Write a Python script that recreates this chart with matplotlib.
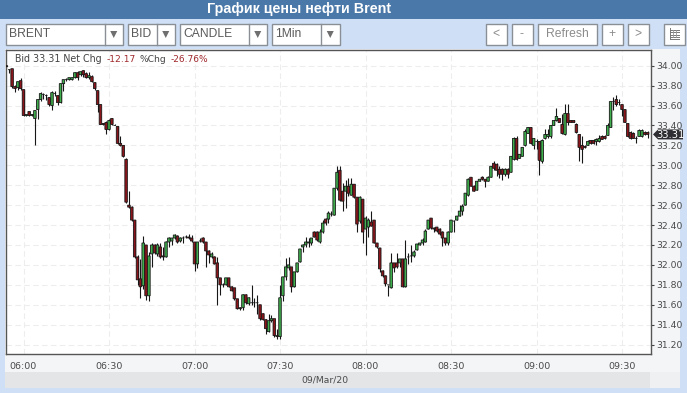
import numpy as np
import matplotlib
matplotlib.use("Agg")
import matplotlib.pyplot as plt
from matplotlib.patches import Rectangle, Polygon

# ---------- data ----------
title = "График цены нефти Brent"
date_label = "09/Mar/20"
time_ticks = [0, 30, 60, 90, 120, 150, 180, 210]
time_labels = ["06:00", "06:30", "07:00", "07:30", "08:00", "08:30", "09:00", "09:30"]
price_ticks = [31.2, 31.4, 31.6, 31.8, 32.0, 32.2, 32.4, 32.6, 32.8, 33.0, 33.2, 33.4, 33.6, 33.8, 34.0]
last_price = 33.31
first_minute = -6  # candles are one minute apart, minutes counted from 06:00

opens = [34.00,33.96,33.97,33.79,33.78,33.85,
33.76,33.50,33.54,33.50,33.47,33.56,33.66,33.71,33.70,33.68,
33.60,33.72,33.70,33.63,33.82,33.86,33.86,33.86,33.88,33.93,
33.91,33.95,33.92,33.88,33.89,33.83,33.75,33.61,33.42,33.43,
33.36,33.47,33.40,33.39,33.22,33.20,33.06,32.60,32.58,32.45,
32.08,31.86,31.79,32.20,31.69,32.11,32.20,32.11,32.18,32.09,
32.08,32.23,32.24,32.27,32.29,32.24,32.27,32.28,32.28,32.27,
32.23,32.01,32.24,32.27,32.23,32.14,32.08,32.08,32.02,31.87,
31.80,31.80,31.87,31.78,31.77,31.66,31.57,31.57,31.70,31.61,
31.62,31.62,31.62,31.60,31.51,31.45,31.33,31.44,31.46,31.29,
31.28,31.69,31.88,31.97,31.98,31.78,31.93,32.03,32.18,32.20,
32.22,32.22,32.33,32.33,32.23,32.33,32.46,32.46,32.51,32.50,
32.77,32.95,32.74,32.74,32.79,32.70,32.81,32.68,32.44,32.66,
32.36,32.38,32.43,32.45,32.22,32.17,31.94,31.89,31.80,31.77,
32.02,32.02,32.02,32.06,31.78,32.08,32.09,32.09,32.15,32.20,
32.22,32.23,32.36,32.47,32.37,32.38,32.36,32.33,32.27,32.22,
32.33,32.44,32.45,32.49,32.54,32.60,32.70,32.88,32.79,32.75,
32.84,32.88,32.86,32.84,32.88,33.02,33.01,32.96,32.96,32.91,
32.96,32.93,33.06,33.27,33.07,33.09,33.20,33.32,33.38,33.20,
33.24,33.24,33.04,33.27,33.29,33.29,33.40,33.45,33.47,33.41,
33.31,33.52,33.45,33.45,33.41,33.31,33.20,33.19,33.20,33.25,
33.25,33.24,33.24,33.29,33.29,33.30,33.38,33.64,33.66,33.63,
33.61,33.56,33.42,33.33,33.32,33.27,33.29,33.29,33.33,33.33]

closes = [33.99,33.96,33.79,33.77,33.84,33.77,
33.50,33.51,33.50,33.51,33.55,33.66,33.72,33.71,33.70,33.61,
33.73,33.72,33.63,33.82,33.86,33.86,33.88,33.88,33.93,33.88,
33.94,33.91,33.88,33.90,33.84,33.77,33.61,33.41,33.41,33.36,
33.45,33.41,33.40,33.22,33.20,33.09,32.63,32.58,32.45,32.08,
31.85,31.78,32.22,31.69,32.09,32.20,32.12,32.20,32.08,32.08,
32.23,32.27,32.27,32.30,32.23,32.27,32.27,32.28,32.27,32.24,
32.01,32.23,32.24,32.23,32.14,32.10,32.11,32.01,31.87,31.80,
31.80,31.87,31.78,31.74,31.66,31.56,31.56,31.70,31.62,31.67,
31.62,31.62,31.62,31.46,31.45,31.36,31.44,31.46,31.29,31.28,
31.67,31.88,31.98,32.00,31.78,31.93,32.02,32.16,32.20,32.23,
32.23,32.27,32.28,32.25,32.33,32.42,32.42,32.52,32.51,32.77,
32.93,32.65,32.64,32.79,32.72,32.81,32.68,32.41,32.68,32.33,
32.47,32.45,32.39,32.22,32.18,31.96,31.89,31.81,31.80,32.02,
31.97,31.98,32.06,31.78,32.06,32.08,32.09,32.13,32.21,32.22,
32.25,32.34,32.45,32.37,32.36,32.34,32.31,32.27,32.22,32.33,
32.45,32.44,32.49,32.54,32.59,32.72,32.86,32.79,32.74,32.84,
32.86,32.86,32.84,32.88,32.99,32.97,32.95,32.91,32.91,32.96,
32.91,33.09,33.27,33.06,33.11,33.18,33.34,33.38,33.22,33.27,
33.24,33.05,33.25,33.31,33.31,33.40,33.45,33.49,33.43,33.32,
33.52,33.43,33.43,33.43,33.33,33.18,33.16,33.18,33.24,33.22,
33.22,33.26,33.27,33.26,33.27,33.40,33.64,33.64,33.61,33.63,
33.56,33.43,33.29,33.27,33.27,33.27,33.35,33.35,33.31,33.31]

highs = [34.01,33.97,33.97,33.81,33.84,33.88,
33.76,33.51,33.54,33.52,33.55,33.66,33.74,33.73,33.72,33.69,
33.75,33.75,33.71,33.82,33.86,33.88,33.88,33.89,33.94,33.95,
33.95,33.96,33.94,33.94,33.91,33.84,33.75,33.61,33.42,33.44,
33.46,33.47,33.41,33.39,33.29,33.20,33.07,32.74,32.59,32.45,
32.10,32.06,32.29,32.20,32.13,32.22,32.21,32.22,32.22,32.18,
32.24,32.28,32.27,32.31,32.30,32.28,32.29,32.30,32.31,32.30,
32.23,32.23,32.27,32.28,32.23,32.15,32.13,32.09,32.08,31.87,
31.82,31.87,31.87,31.79,31.77,31.66,31.58,31.71,31.71,31.68,
31.80,31.67,31.70,31.60,31.52,31.46,31.51,31.50,31.46,31.36,
31.80,31.88,32.07,32.08,31.98,31.93,32.02,32.16,32.21,32.28,
32.27,32.27,32.34,32.34,32.36,32.45,32.47,32.54,32.54,32.77,
32.99,32.99,32.82,32.85,32.87,32.87,32.81,32.68,32.69,32.66,
32.49,32.47,32.54,32.45,32.22,32.17,31.95,31.90,31.80,32.12,
32.02,32.12,32.06,32.06,32.25,32.12,32.20,32.15,32.21,32.22,
32.27,32.36,32.45,32.47,32.38,32.38,32.37,32.34,32.27,32.34,
32.45,32.45,32.49,32.60,32.61,32.72,32.87,32.88,32.80,32.84,
32.86,32.89,32.86,32.89,32.99,33.04,33.02,32.99,32.97,32.97,
32.97,33.09,33.28,33.29,33.11,33.18,33.36,33.38,33.38,33.27,
33.26,33.24,33.26,33.36,33.36,33.40,33.45,33.58,33.47,33.52,
33.62,33.62,33.45,33.45,33.42,33.31,33.29,33.20,33.25,33.25,
33.26,33.27,33.30,33.30,33.30,33.42,33.64,33.69,33.71,33.67,
33.61,33.56,33.42,33.34,33.33,33.29,33.36,33.36,33.34,33.34]

lows = [33.97,33.93,33.78,33.74,33.76,33.76,
33.49,33.49,33.49,33.49,33.20,33.46,33.65,33.67,33.66,33.60,
33.56,33.70,33.61,33.63,33.75,33.85,33.86,33.86,33.88,33.86,
33.90,33.89,33.88,33.87,33.84,33.76,33.54,33.41,33.40,33.31,
33.35,33.40,33.40,33.21,33.19,33.08,32.62,32.57,32.44,32.07,
31.80,31.67,31.76,31.65,31.64,31.98,32.11,32.09,32.07,32.05,
32.08,32.18,32.20,32.26,32.22,32.23,32.22,32.27,32.26,32.23,
31.94,31.97,32.23,32.22,31.98,32.02,32.07,32.01,31.60,31.70,
31.78,31.80,31.78,31.74,31.65,31.56,31.55,31.55,31.61,31.60,
31.60,31.58,31.51,31.45,31.45,31.31,31.33,31.43,31.28,31.26,
31.26,31.64,31.85,31.95,31.73,31.78,31.93,32.03,32.13,32.18,
32.18,32.20,32.28,32.24,32.22,32.32,32.40,32.42,32.49,32.50,
32.75,32.64,32.54,32.57,32.69,32.70,32.67,32.33,32.42,32.22,
32.10,32.28,32.39,32.22,32.17,31.93,31.88,31.79,31.69,31.77,
31.93,31.97,31.98,31.78,31.78,32.01,32.03,32.08,32.15,32.20,
32.20,32.23,32.36,32.36,32.33,32.33,32.30,32.19,32.20,32.20,
32.33,32.33,32.45,32.49,32.50,32.60,32.69,32.79,32.74,32.75,
32.84,32.85,32.78,32.84,32.88,32.95,32.89,32.87,32.85,32.89,
32.87,32.93,33.05,33.05,33.07,33.09,33.19,33.32,33.21,33.16,
33.16,32.90,33.02,33.26,33.27,33.27,33.40,33.44,33.43,33.31,
33.30,33.40,33.43,33.43,33.32,33.04,33.02,33.17,33.20,33.21,
33.21,33.20,33.23,33.26,33.26,33.30,33.38,33.56,33.60,33.61,
33.49,33.43,33.28,33.26,33.27,33.22,33.29,33.28,33.30,33.27]

# ---------- styles ----------
W, H = 687, 393
PAGE = "#cfe0f6"
BAR = "#4a78a8"
UP = "#3fae4d"
DOWN = "#8c151b"
EDGE = "#161616"
TICK_TXT = "#4a4a4a"
MONO = "DejaVu Sans"
UI = "Liberation Sans"

fig = plt.figure(figsize=(W / 100, H / 100), dpi=100, facecolor=PAGE)

# background panels and toolbar live in a pixel-space axes
bg = fig.add_axes([0, 0, 1, 1], zorder=0)
bg.set_xlim(0, W); bg.set_ylim(H, 0); bg.axis("off")
bg.add_patch(Rectangle((0, 0), W, 19, fc=BAR, ec="none"))
bg.text(299, 8.5, title, color="white", ha="center", va="center",
        fontsize=10.3, fontweight="bold", family=UI)
bg.add_patch(Rectangle((5, 49), 675, 323, fc="#f4f5f7", ec="none"))
bg.add_patch(Rectangle((5, 372), 645, 16, fc="#e4e5e7", ec="none"))
bg.add_patch(Rectangle((650, 372), 30, 16, fc="#eef0f2", ec="none"))
bg.text(325, 380, date_label, color=TICK_TXT, ha="center", va="center", fontsize=6.7, family=MONO)

dropdowns = [(5.5, 122.5, 105, "BRENT"), (128, 174.5, 157, "BID"),
             (180, 266.5, 249, "CANDLE"), (272, 339.5, 321, "1Min")]
for x0, x1, xd, lab in dropdowns:
    bg.add_patch(Rectangle((x0, 23.5), x1 - x0, 21, fc="white", ec="#8a8f96", lw=1))
    bg.plot([xd, xd], [23.5, 44.5], color="#8a8f96", lw=1)
    bg.text(x0 + 3.5, 33.8, lab, color="#5a5a5a", ha="left", va="center", fontsize=8.7, family=UI)
    xm = (xd + x1) / 2
    bg.add_patch(Polygon([(xm - 3.5, 31), (xm + 3.5, 31), (xm, 38)], fc="#6f6f6f", ec="none"))

buttons = [(485.5, 506.5, "<"), (511.5, 532.5, "-"), (537.5, 597, "Refresh"),
           (601.5, 622.5, "+"), (627.5, 648.5, ">")]
for x0, x1, lab in buttons:
    bg.add_patch(Rectangle((x0, 23.5), x1 - x0, 21, fc="white", ec="#8a8f96", lw=1))
    bg.text((x0 + x1) / 2, 33.8, lab, color="#8c8c8c", ha="center", va="center", fontsize=8.7, family=UI)
bg.add_patch(Rectangle((663.5, 23.5), 21, 21, fc="white", ec="#8a8f96", lw=1))
for yy in (29.5, 32, 34.5, 37):
    bg.plot([670, 679], [yy, yy], color="#777777", lw=0.7)
bg.plot([670, 670], [28, 39], color="#777777", lw=0.7)
bg.plot([670, 679], [39, 39], color="#777777", lw=0.7)
for xx in (673, 676):
    bg.plot([xx, xx], [29.5, 37], color="#999999", lw=0.6)

# chart axes: limits come from the tick geometry of the reference
left, right, top, bottom = 5.5, 651, 49.5, 353.5
ax = fig.add_axes([left / W, 1 - bottom / H, (right - left) / W, (bottom - top) / H], zorder=1)
ax.set_facecolor("white")
px_per_min, px_per_unit = 2.85, 99.6
ax.set_xlim((left - 23.5) / px_per_min, (right - 23.5) / px_per_min)
ax.set_ylim(34 - (bottom - 65.7) / px_per_unit, 34 - (top - 65.7) / px_per_unit)

minutes = np.arange(first_minute, first_minute + len(opens))
o, c, hi, lo = map(np.array, (opens, closes, highs, lows))
ax.set_axisbelow(True)
ax.grid(True, color="#ededed", lw=0.8, ls=(0, (5, 3)))
ax.vlines(minutes, lo, hi, color=EDGE, lw=0.8, zorder=2)
colors = [UP if cc > oo else DOWN for oo, cc in zip(o, c)]
bars = ax.bar(minutes, np.abs(c - o), bottom=np.minimum(o, c), width=0.88, color=colors,
              edgecolor=EDGE, linewidth=0.6, zorder=3)
for b in bars:
    b.set_snap(False)

ax.yaxis.tick_right()
ax.set_yticks(price_ticks)
ax.set_yticklabels([f"{v:.2f}" for v in price_ticks], fontsize=6.7, color=TICK_TXT, family=MONO)
ax.set_xticks(time_ticks)
ax.set_xticklabels(time_labels, fontsize=6.8, color=TICK_TXT, family=MONO)
ax.tick_params(axis="y", length=2.5, width=0.8, color="#444444", pad=1.5)
ax.tick_params(axis="x", length=0, pad=6)
for s in ax.spines.values():
    s.set_color("#555555"); s.set_linewidth(1)

# header summary
for xpos, txt, col, fs in [(15, "Bid 33.31 Net Chg", "#444444", 6.85), (107, "-12.17", "#a0282c", 6.6),
                           (139, "%Chg", "#444444", 6.6), (171, "-26.76%", "#a0282c", 6.5)]:
    ax.annotate(txt, xy=(xpos, H - 59.5), xycoords="figure pixels", fontsize=fs, color=col,
                family=MONO, ha="left", va="center", zorder=6)

# last price flag, placed through the price scale
fg = fig.add_axes([0, 0, 1, 1], zorder=2)
fg.set_xlim(0, W); fg.set_ylim(H, 0); fg.axis("off")
yp = H - ax.transData.transform((0, last_price))[1]
fg.add_patch(Polygon([(653, yp), (658, yp - 5), (683, yp - 5), (683, yp + 5), (658, yp + 5)],
                     fc="#2f2f33", ec="none"))
fg.text(670.5, yp + 0.2, f"{last_price:.2f}", color="white", ha="center", va="center",
        fontsize=7.2, family=MONO)

fig.savefig("out.png", dpi=100, facecolor=PAGE)
